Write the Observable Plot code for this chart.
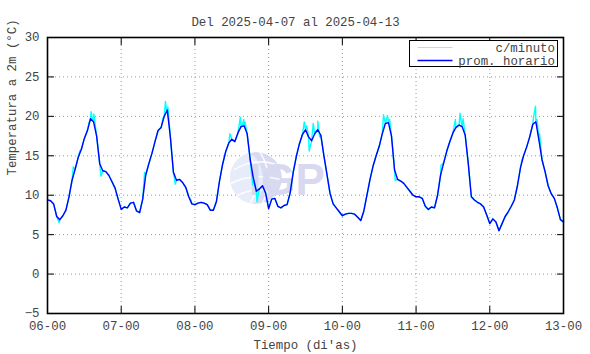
<!DOCTYPE html>
<html>
<head>
<meta charset="utf-8">
<script src="https://cdn.jsdelivr.net/npm/d3@7"></script>
<script src="https://cdn.jsdelivr.net/npm/@observablehq/plot@0.6"></script>
<style>
  body { margin: 0; background: #fff; }
</style>
</head>
<body>
<div id="chart"></div>
<script>
// ---------- text ----------
const titleText = "Del 2025-04-07 al 2025-04-13";
const xLabel = "Tiempo (di'as)";
const yLabel = "Temperatura a 2m (°C)";
const dayLabels = ["06-00", "07-00", "08-00", "09-00", "10-00", "11-00", "12-00", "13-00"];
const yTicks = [-5, 0, 5, 10, 15, 20, 25, 30];
const seriesNames = ["c/minuto", "prom. horario"];
const seriesColors = ["#00ffff", "#0000ff"];

// ---------- hourly averages (°C), one array per day, 24 values ----------
const temp06 = [9.4, 9.3, 8.9, 7.3, 6.9, 7.4, 8.1, 9.8, 11.9, 13.3, 14.8, 15.8, 17.2, 18.2, 19.7, 19.3, 17.5, 14.0, 13.1, 13.0, 12.5, 11.7, 10.9, 9.5];
const temp07 = [8.2, 8.5, 8.4, 9.0, 9.1, 8.0, 7.8, 9.5, 12.6, 14.0, 15.3, 16.8, 18.2, 18.6, 20.0, 20.8, 17.4, 12.9, 11.9, 12.0, 11.6, 11.0, 9.8, 8.9];
const temp08 = [8.8, 9.0, 9.1, 9.0, 8.8, 8.1, 8.1, 9.2, 11.8, 13.9, 15.5, 16.6, 17.1, 16.8, 17.9, 18.7, 18.8, 17.8, 14.5, 12.2, 10.5, 10.8, 11.2, 10.3];
const temp09 = [8.3, 9.5, 9.6, 8.6, 8.4, 8.7, 8.8, 10.3, 12.9, 14.9, 16.5, 17.7, 18.3, 17.4, 16.9, 17.8, 18.3, 17.6, 15.0, 12.6, 10.2, 8.9, 8.4, 7.9];
const temp10 = [7.4, 7.6, 7.7, 7.7, 7.6, 7.2, 6.8, 8.0, 10.0, 12.0, 13.7, 15.0, 16.2, 17.8, 19.1, 19.2, 17.5, 13.2, 12.0, 11.8, 11.5, 11.0, 10.5, 10.0];
const temp11 = [9.8, 9.8, 9.6, 8.6, 8.2, 8.5, 8.4, 10.0, 12.6, 14.1, 15.6, 16.8, 17.9, 18.6, 18.9, 18.7, 17.6, 14.0, 9.8, 9.4, 9.1, 8.9, 8.5, 7.5];
const temp12 = [6.4, 7.0, 6.6, 5.5, 6.4, 7.3, 7.9, 8.6, 9.4, 11.2, 13.5, 15.0, 16.1, 17.4, 19.0, 19.3, 17.0, 14.5, 13.0, 11.2, 10.2, 9.6, 8.4, 6.9];
const temp13 = [6.6];

// ---------- per-minute excursions visible above/below the hourly line ----------
// hours since 2025-04-06 00:00 and temperature
const spikeHours = [3.8, 8.4, 10.5, 13.5, 14.2, 14.7, 15.1, 17.4,
  31.6, 34.6, 37.6, 38.4, 38.8, 39.2, 41.6, 46.8,
  59.4, 62.8, 63.3, 63.9, 64.3, 66.8, 68.2,
  83.6, 84.4, 85.2, 86.5, 87.5, 88.0, 88.6,
  104.4, 109.4, 110.0, 110.7, 111.4, 113.2,
  128.1, 132.8, 133.6, 134.3, 134.8, 135.3, 137.6,
  154.4, 158.2, 158.9, 159.4, 160.2];
const spikeValues = [6.5, 13.6, 15.6, 19.2, 20.6, 19.4, 20.3, 12.4,
  12.9, 16.2, 19.8, 21.9, 20.6, 21.2, 11.4, 9.3,
  17.8, 19.9, 18.7, 19.6, 19.3, 11.3, 9.2,
  19.3, 18.8, 15.6, 19.1, 18.2, 19.4, 17.4,
  10.7, 20.2, 19.1, 20.1, 19.6, 11.9,
  13.8, 19.6, 18.7, 20.4, 19.0, 19.7, 11.3,
  14.4, 19.8, 21.3, 19.6, 17.8];

// ---------- tables built from the arrays ----------
const hourly = [temp06, temp07, temp08, temp09, temp10, temp11, temp12, temp13]
  .flat().map((t, i) => ({h: i, t}));
const minute = hourly.concat(spikeHours.map((h, i) => ({h, t: spikeValues[i]})))
  .sort((a, b) => a.h - b.h);
const xTicks = dayLabels.map((_, i) => i * 24);

const mono = "'Liberation Mono', 'DejaVu Sans Mono', monospace";
const textColor = "#444";

// watermark (IGP logo), drawn behind the data
function watermark(index, scales, values, dims) {
  const g = d3.create("svg:g").attr("pointer-events", "none");
  const cx = 256, cy = 178, r = 26;
  const clipId = "globeclip";
  g.append("clipPath").attr("id", clipId).append("circle").attr("cx", cx).attr("cy", cy).attr("r", r);
  const gg = g.append("g").attr("clip-path", `url(#${clipId})`);
  gg.append("circle").attr("cx", cx).attr("cy", cy).attr("r", r).attr("fill", "#d9daf1");
  gg.append("ellipse").attr("cx", cx - 10).attr("cy", cy + 2).attr("rx", 17).attr("ry", 27).attr("fill", "#e7ecfa");
  const arcs = [
    `M${cx - 22},${cy - 8} Q${cx},${cy - 22} ${cx + 24},${cy - 12}`,
    `M${cx - 26},${cy + 6} Q${cx - 4},${cy - 6} ${cx + 26},${cy + 2}`,
    `M${cx - 20},${cy + 18} Q${cx},${cy + 8} ${cx + 22},${cy + 14}`,
    `M${cx + 4},${cy - 26} Q${cx + 20},${cy} ${cx + 6},${cy + 26}`,
    `M${cx - 8},${cy - 26} Q${cx + 8},${cy} ${cx - 6},${cy + 26}`
  ];
  for (const d of arcs) gg.append("path").attr("d", d).attr("fill", "none").attr("stroke", "#ffffff").attr("stroke-width", 1.6).attr("opacity", 0.85);
  g.append("text").attr("x", 287).attr("y", 195).attr("font-family", "'Liberation Sans', Arial, sans-serif")
    .attr("font-weight", "bold").attr("font-size", 44).attr("fill", "#d8d9f0").text("IGP");
  return g.node();
}

// legend box inside the plot, top-right
function legend(index, scales, values, dims) {
  const g = d3.create("svg:g");
  const x0 = 409.5, y0 = 40.5, w = 148, h = 26;
  g.append("rect").attr("x", x0).attr("y", y0).attr("width", w).attr("height", h)
    .attr("fill", "#fff").attr("stroke", "#000").attr("stroke-width", 1);
  seriesNames.forEach((name, i) => {
    const yy = y0 + 7 + i * 13;
    g.append("line").attr("x1", x0 + 8).attr("x2", x0 + 43).attr("y1", yy).attr("y2", yy)
      .attr("stroke", seriesColors[i]).attr("stroke-width", i === 0 ? 1 : 1.3)
      .attr("opacity", i === 0 ? 0.55 : 1);
    g.append("text").attr("x", x0 + w - 2.5).attr("y", yy).attr("dy", "0.35em")
      .attr("text-anchor", "end").attr("font-family", mono).attr("font-size", 12.4)
      .attr("fill", textColor).text(name);
  });
  return g.node();
}

const tickBlank = () => "";

const chart = Plot.plot({
  width: 590,
  height: 354,
  marginLeft: 47,
  marginRight: 27,
  marginTop: 37,
  marginBottom: 41,
  style: {fontFamily: mono, fontSize: "12.4px", color: textColor, background: "#fff", overflow: "visible"},
  x: {type: "linear", domain: [0, 168]},
  y: {domain: [-5, 30]},
  marks: [
    Plot.gridX(xTicks, {stroke: "#9a9a9a", strokeOpacity: 1, strokeDasharray: "1,3"}),
    Plot.gridY(yTicks, {stroke: "#9a9a9a", strokeOpacity: 1, strokeDasharray: "1,3"}),
    watermark,
    Plot.line(minute, {x: "h", y: "t", stroke: seriesColors[0], strokeWidth: 1.4}),
    Plot.line(hourly, {x: "h", y: "t", stroke: seriesColors[1], strokeWidth: 1.4}),
    Plot.axisX(xTicks, {anchor: "bottom", tickSize: 0, tickPadding: 8, tickFormat: (d, i) => dayLabels[i], label: null, fill: textColor}),
    Plot.axisX(xTicks, {anchor: "bottom", tickSize: -7, tickFormat: tickBlank, label: null, stroke: "#000"}),
    Plot.axisX(xTicks, {anchor: "top", tickSize: -7, tickFormat: tickBlank, label: null, stroke: "#000"}),
    Plot.axisY(yTicks, {anchor: "left", tickSize: 0, tickPadding: 8, label: null, fill: textColor}),
    Plot.axisY(yTicks, {anchor: "left", tickSize: -7, tickFormat: tickBlank, label: null, stroke: "#000"}),
    Plot.axisY(yTicks, {anchor: "right", tickSize: -7, tickFormat: tickBlank, label: null, stroke: "#000"}),
    Plot.frame({stroke: "#000", strokeWidth: 1.6}),
    legend,
    Plot.text([titleText], {frameAnchor: "top", dy: -20, dx: -10, fill: textColor}),
    Plot.text([xLabel], {frameAnchor: "bottom", dy: 35, fill: textColor}),
    Plot.text([yLabel], {frameAnchor: "left", dx: -35, rotate: -90, fill: textColor})
  ]
});

document.getElementById("chart").appendChild(chart);
</script>
</body>
</html>
